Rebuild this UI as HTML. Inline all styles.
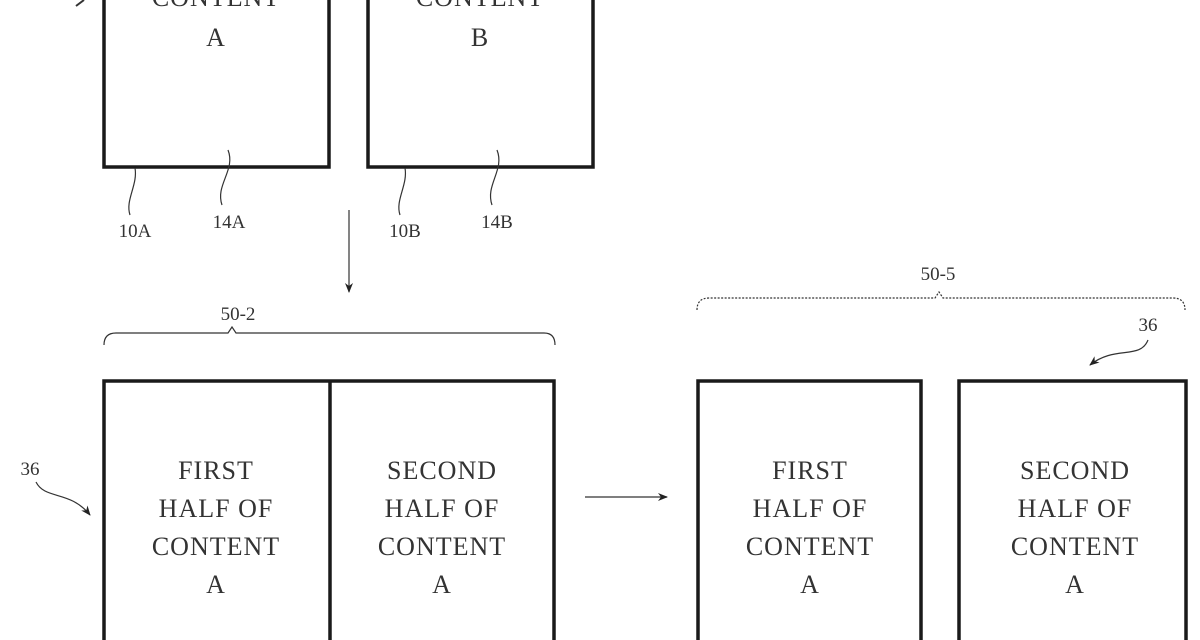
<!DOCTYPE html>
<html><head><style>
body{margin:0;background:#fff;}
svg{display:block}
text{font-family:"Liberation Serif",serif;fill:#333;}
</style></head><body>
<svg width="1200" height="640" viewBox="0 0 1200 640" xmlns="http://www.w3.org/2000/svg">
<defs><marker id="ah" markerWidth="10" markerHeight="10" refX="9" refY="5" orient="auto" markerUnits="userSpaceOnUse"><path d="M0,1 L10,5 L0,9 L3,5 Z" fill="#222"/></marker></defs>
<g fill="none" stroke="#1a1a1a" stroke-width="3.5">
<rect x="104" y="-10" width="225" height="177"/>
<rect x="368" y="-10" width="225" height="177"/>
<rect x="104" y="381" width="450" height="270"/>
<line x1="330" y1="381" x2="330" y2="645"/>
<rect x="698" y="381" width="223" height="270"/>
<rect x="959" y="381" width="227" height="270"/>
</g>
<g fill="none" stroke="#333" stroke-width="1.2">
<path d="M135,168 C138,185 125,200 130,215"/>
<path d="M228,150 C236,170 215,185 222,205"/>
<path d="M405,168 C408,185 395,200 400,215"/>
<path d="M497,150 C505,170 485,185 492,205"/>
<line x1="349" y1="210" x2="349" y2="292" marker-end="url(#ah)"/>
<path d="M104,345 Q104,333 116,333 L228,333 L232,327 L236,333 L544,333 Q555,333 555,345"/>
<path d="M697,310 Q697,298 709,298 L935,298 L939,292 L943,298 L1173,298 Q1185,298 1185,310" stroke-dasharray="2,1.5"/>
<line x1="585" y1="497" x2="667" y2="497" marker-end="url(#ah)"/>
<path d="M36,482 C45,500 70,490 90,515" marker-end="url(#ah)"/>
<path d="M1148,340 C1140,360 1115,345 1090,365" marker-end="url(#ah)"/>
<path d="M84,0 L76,6" stroke-width="2"/>
</g>
<g font-size="26" text-anchor="middle" letter-spacing="1">
<text x="216" y="6">CONTENT</text><text x="216" y="46">A</text>
<text x="480" y="6">CONTENT</text><text x="480" y="46">B</text>
<text x="216" y="479">FIRST</text><text x="216" y="517">HALF OF</text><text x="216" y="555">CONTENT</text><text x="216" y="593">A</text>
<text x="442" y="479">SECOND</text><text x="442" y="517">HALF OF</text><text x="442" y="555">CONTENT</text><text x="442" y="593">A</text>
<text x="810" y="479">FIRST</text><text x="810" y="517">HALF OF</text><text x="810" y="555">CONTENT</text><text x="810" y="593">A</text>
<text x="1075" y="479">SECOND</text><text x="1075" y="517">HALF OF</text><text x="1075" y="555">CONTENT</text><text x="1075" y="593">A</text>
</g>
<g font-size="19" text-anchor="middle">
<text x="135" y="237">10A</text><text x="229" y="228">14A</text>
<text x="405" y="237">10B</text><text x="497" y="228">14B</text>
<text x="238" y="320">50-2</text><text x="938" y="280">50-5</text>
<text x="30" y="475">36</text><text x="1148" y="331">36</text>
</g>
</svg>
</body></html>
